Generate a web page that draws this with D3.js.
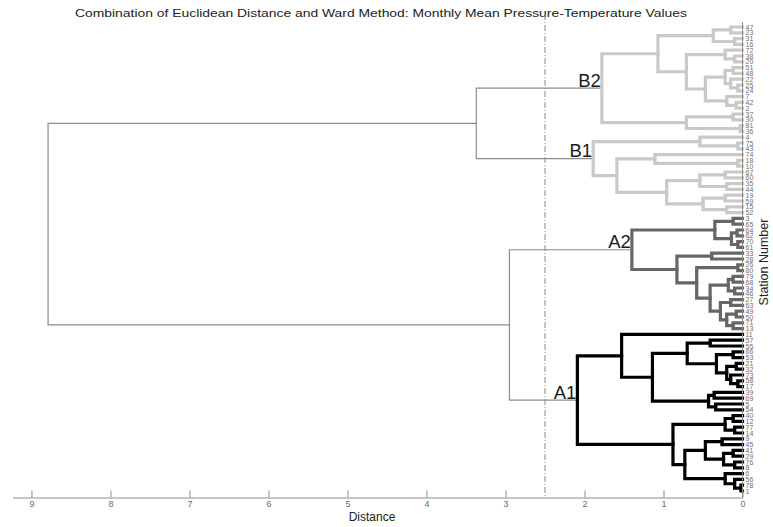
<!DOCTYPE html>
<html>
<head>
<meta charset="utf-8">
<script src="https://cdn.jsdelivr.net/npm/d3@7"></script>
<style>
  body { margin: 0; background: #fff; }
  svg { display: block; font-family: "Liberation Sans", Arial, sans-serif; }
</style>
</head>
<body>
<svg id="chart" width="773" height="527"></svg>
<script>
// Ward linkage on Euclidean distance. Each internal node is
// [mergeDistance, left, right]; a bare number is a station (leaf).
const clusterB2 = [1.78,
  [1.07,
    [0.37, [0.15, 47, 23], [0.10, 31, 16]],
    [0.71,
      [0.22, 72, [0.10, 38, 20]],
      [0.47,
        [0.22, [0.12, 51, 48], [0.15, 22, [0.06, 25, 24]]],
        [0.20, 7, [0.08, 42, 2]]]]],
  [0.71, [0.12, 37, 30], [0.03, 81, 36]]];

const clusterB1 = [1.89,
  [0.54, 4, [0.06, 75, 43]],
  [1.59,
    [1.11, 74, [0.06, 18, 10]],
    [0.96,
      [0.54, [0.22, 67, 60], [0.20, 35, 44]],
      [0.50, [0.22, 19, 59], [0.20, 15, 52]]]]];

const clusterA2 = [1.40,
  [0.35, [0.12, 3, 65], [0.14, [0.07, 64, 62], [0.06, 70, 61]]],
  [0.83,
    [0.39, 33, 28],
    [0.58,
      [0.06, 26, 80],
      [0.41,
        [0.18, [0.12, 79, 68], [0.10, 34, 46]],
        [0.28, [0.15, 27, 63], [0.20, [0.08, 49, 50], [0.12, 71, 13]]]]]]];

const clusterA1 = [2.09,
  [1.53,
    11,
    [1.14,
      [0.70,
        [0.41, 57, 55],
        [0.33, [0.12, 66, 53], [0.20, [0.08, 21, 32], [0.15, 73, [0.06, 58, 17]]]]],
      [0.43, [0.36, 39, 69], [0.34, 5, 54]]]],
  [0.88,
    [0.22, [0.12, 40, 12], [0.10, 77, 14]],
    [0.73,
      [0.47, [0.26, 9, 45], [0.24, [0.12, 41, 29], [0.10, 76, 8]]],
      [0.22, 6, [0.10, 56, [0.02, 78, 1]]]]]];

// Upper merges joining the four clusters
const groupBDistance = 3.37;
const groupADistance = 2.95;
const rootDistance = 8.79;
const cutDistance = 2.5;

const clusterNames  = ["B2", "B1", "A2", "A1"];
const clusterColors = ["#c9c9c9", "#c9c9c9", "#666666", "#000000"];
const distanceTicks = [0, 1, 2, 3, 4, 5, 6, 7, 8, 9];

const titleText = "Combination of Euclidean Distance and Ward Method: Monthly Mean Pressure-Temperature Values";

// ---- build hierarchy ----
function build(a, cluster) {
  if (typeof a === "number") return { station: a, dist: 0, cluster };
  return { dist: a[0], cluster, children: [build(a[1], cluster), build(a[2], cluster)] };
}
const clusterData = [clusterB2, clusterB1, clusterA2, clusterA1];
const clusterNodes = clusterData.map((c, i) => {
  const n = build(c, i);
  n.clusterRoot = true;
  return n;
});
const treeData = {
  dist: rootDistance, cluster: -1,
  children: [
    { dist: groupBDistance, cluster: -1, children: [clusterNodes[0], clusterNodes[1]] },
    { dist: groupADistance, cluster: -1, children: [clusterNodes[2], clusterNodes[3]] }
  ]
};
const root = d3.hierarchy(treeData);
const leaves = root.leaves();

// ---- scales ----
const svg = d3.select("#chart");
const axisY = 497.5;
const x = d3.scaleLinear().domain([0, 9.24]).range([742.5, 12.5]);
const y = d3.scalePoint().domain(leaves.map(d => d.data.station)).range([27, 491]);

root.eachAfter(n => {
  n.px = x(n.data.dist);
  n.py = n.children ? d3.mean(n.children, c => c.py) : y(n.data.station);
});

// ---- title ----
svg.append("text")
  .attr("x", 381).attr("y", 17)
  .attr("text-anchor", "middle")
  .attr("font-size", 11.5)
  .attr("fill", "#222")
  .attr("textLength", 612)
  .attr("lengthAdjust", "spacingAndGlyphs")
  .text(titleText);

// ---- cut line ----
svg.append("line")
  .attr("x1", x(cutDistance)).attr("x2", x(cutDistance))
  .attr("y1", 14).attr("y2", axisY)
  .attr("stroke", "#8a8a8a").attr("stroke-width", 1)
  .attr("stroke-dasharray", "6,2,1,2");

// ---- dendrogram links ----
const internal = root.descendants().filter(n => n.children);
const linkG = svg.append("g").attr("fill", "none");
linkG.selectAll("path")
  .data(internal)
  .join("path")
  .attr("d", n => {
    const [a, b] = n.children;
    return `M${a.px},${a.py}H${n.px}V${b.py}H${b.px}`;
  })
  .attr("stroke", n => n.data.cluster < 0 ? "#8c8c8c" : clusterColors[n.data.cluster])
  .attr("stroke-width", n => n.data.cluster < 0 ? 1.2 : 3.2)
  .attr("stroke-linejoin", "miter")
  .attr("stroke-linecap", "square");

// ---- cluster labels ----
svg.append("g")
  .selectAll("text")
  .data(root.descendants().filter(n => n.data.clusterRoot))
  .join("text")
  .attr("x", n => n.px - 1)
  .attr("y", n => n.py - 1.5)
  .attr("text-anchor", "end")
  .attr("font-size", 18.5)
  .attr("fill", "#1a1a1a")
  .text(n => clusterNames[n.data.cluster]);

// ---- right axis with station labels ----
svg.append("line")
  .attr("x1", x(0)).attr("x2", x(0))
  .attr("y1", 22).attr("y2", axisY)
  .attr("stroke", "#8c8c8c").attr("stroke-width", 1);

svg.append("g")
  .selectAll("text")
  .data(leaves)
  .join("text")
  .attr("x", x(0) + 3)
  .attr("y", d => y(d.data.station))
  .attr("dy", "0.36em")
  .attr("font-size", 7)
  .attr("fill", "#707070")
  .text(d => d.data.station);

svg.append("text")
  .attr("transform", "translate(768,262) rotate(-90)")
  .attr("text-anchor", "middle")
  .attr("font-size", 12.5)
  .attr("fill", "#222")
  .text("Station Number");

// ---- bottom axis ----
const axis = d3.axisBottom(x)
  .tickValues(distanceTicks)
  .tickSizeInner(-7)
  .tickSizeOuter(0)
  .tickPadding(3)
  .tickFormat(d3.format("d"));
const axisG = svg.append("g").attr("transform", `translate(0,${axisY})`).call(axis);
axisG.select(".domain").attr("stroke", "#8c8c8c");
axisG.selectAll(".tick line").attr("stroke", "#8c8c8c");
axisG.selectAll(".tick text").attr("fill", "#6a6a6a").attr("font-size", 9)
  .attr("font-family", "'Liberation Sans', Arial, sans-serif");

svg.append("text")
  .attr("x", 372).attr("y", 521)
  .attr("text-anchor", "middle")
  .attr("font-size", 12)
  .attr("fill", "#222")
  .text("Distance");
</script>
</body>
</html>
